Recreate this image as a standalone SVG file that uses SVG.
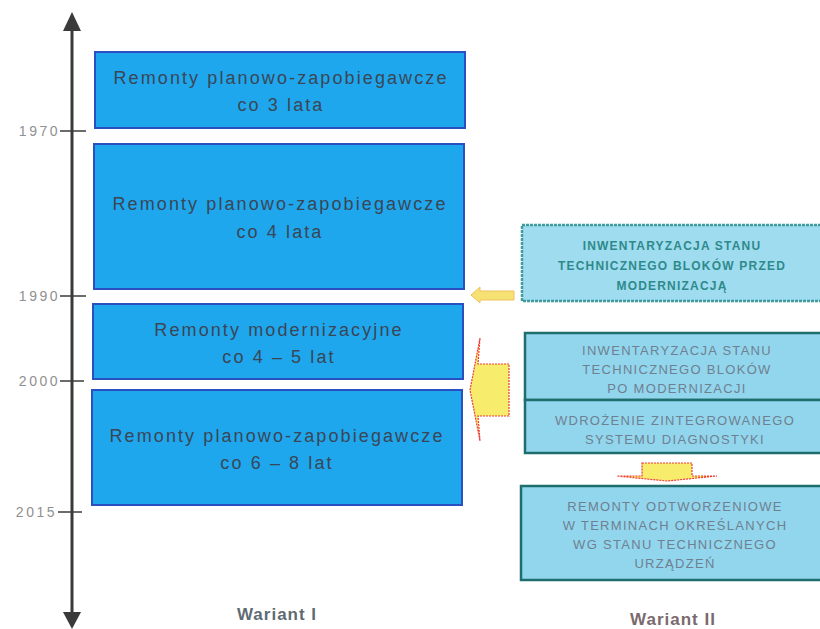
<svg xmlns="http://www.w3.org/2000/svg" width="820" height="629" viewBox="0 0 820 629">
<style>
.bg{fill:#ffffff}
.lbox{fill:#1fa7ee;stroke:#2a4fc0;stroke-width:2}
.ltxt{font-family:"Liberation Sans",Arial,sans-serif;font-size:18px;letter-spacing:2.1px;fill:#3a4655;text-anchor:middle}
.year{font-family:"Liberation Sans",Arial,sans-serif;font-size:14px;letter-spacing:2.5px;fill:#909090;text-anchor:end}
.axis{stroke:#3a3a3a;stroke-width:3;fill:none}
.tick{stroke:#3a3a3a;stroke-width:1.5}
.rbox1{fill:#9fdcf0;stroke:#3f9c9c;stroke-width:2.5;stroke-dasharray:3 1}
.rbox{fill:#92d6ee;stroke:#1f6e6e;stroke-width:2.5}
.rtxtb{font-family:"Liberation Sans",Arial,sans-serif;font-size:12px;font-weight:bold;letter-spacing:1.2px;fill:#2e8a8a;text-anchor:middle}
.rtxt{font-family:"Liberation Sans",Arial,sans-serif;font-size:13px;letter-spacing:1.3px;fill:#6f8090;text-anchor:middle}
.yarrow{fill:#f8ec6c;stroke:#ee3b3b;stroke-width:1.2;stroke-dasharray:2 1}
.yarrow2{fill:#f6e272;stroke:#f0c060;stroke-width:1}
.var{font-family:"Liberation Sans",Arial,sans-serif;font-size:17px;font-weight:bold;letter-spacing:1px;text-anchor:middle}
</style>
<rect class="bg" x="0" y="0" width="820" height="629"/>

<g id="axis">
<line class="axis" x1="72" y1="28" x2="72" y2="614"/>
<polygon points="72,12 63,31 81,31" fill="#3a3a3a"/>
<polygon points="72,629 63,612 81,612" fill="#3a3a3a"/>
<line class="tick" x1="60" y1="131" x2="86" y2="131"/>
<line class="tick" x1="60" y1="296" x2="86" y2="296"/>
<line class="tick" x1="60" y1="381" x2="84" y2="381"/>
<line class="tick" x1="58" y1="512" x2="82" y2="512"/>
<text class="year" x="60" y="136">1970</text>
<text class="year" x="60" y="301">1990</text>
<text class="year" x="60" y="386">2000</text>
<text class="year" x="57" y="517">2015</text>
</g>

<g id="box1">
<rect class="lbox" x="95" y="52" width="370" height="76"/>
<text class="ltxt" x="281" y="84">Remonty planowo-zapobiegawcze</text>
<text class="ltxt" x="281" y="111">co 3 lata</text>
</g>
<g id="box2">
<rect class="lbox" x="94" y="144" width="370" height="145"/>
<text class="ltxt" x="280" y="210">Remonty planowo-zapobiegawcze</text>
<text class="ltxt" x="280" y="238">co 4 lata</text>
</g>
<g id="box3">
<rect class="lbox" x="93" y="304" width="370" height="75"/>
<text class="ltxt" x="279" y="336">Remonty modernizacyjne</text>
<text class="ltxt" x="279" y="363">co 4 – 5 lat</text>
</g>
<g id="box4">
<rect class="lbox" x="92" y="390" width="370" height="115"/>
<text class="ltxt" x="277" y="442">Remonty planowo-zapobiegawcze</text>
<text class="ltxt" x="277" y="469">co 6 – 8 lat</text>
</g>

<g id="rbox1">
<rect class="rbox1" x="522" y="225" width="300" height="76"/>
<text class="rtxtb" x="672" y="250">INWENTARYZACJA STANU</text>
<text class="rtxtb" x="672" y="270">TECHNICZNEGO BLOKÓW PRZED</text>
<text class="rtxtb" x="672" y="290">MODERNIZACJĄ</text>
</g>
<g id="rbox2">
<rect class="rbox" x="525" y="333" width="297" height="67"/>
<text class="rtxt" x="677" y="355">INWENTARYZACJA STANU</text>
<text class="rtxt" x="677" y="374">TECHNICZNEGO BLOKÓW</text>
<text class="rtxt" x="677" y="393">PO MODERNIZACJI</text>
</g>
<g id="rbox3">
<rect class="rbox" x="525" y="400" width="297" height="53"/>
<text class="rtxt" x="675" y="425">WDROŻENIE ZINTEGROWANEGO</text>
<text class="rtxt" x="675" y="444">SYSTEMU DIAGNOSTYKI</text>
</g>
<g id="rbox4">
<rect class="rbox" x="521" y="486" width="301" height="94"/>
<text class="rtxt" x="675" y="511">REMONTY ODTWORZENIOWE</text>
<text class="rtxt" x="675" y="530">W TERMINACH OKREŚLANYCH</text>
<text class="rtxt" x="675" y="549">WG STANU TECHNICZNEGO</text>
<text class="rtxt" x="675" y="568">URZĄDZEŃ</text>
</g>

<g id="connectors">
<polygon class="yarrow2" points="471,295 480,287 480,291 514,291 514,300 480,300 480,303"/>
<polygon class="yarrow" points="470,390 480,338 478,364 509,364 509,416 478,416 480,441"/>
<polygon class="yarrow" points="642,463 692,463 692,476 717,476 667,481 617,476 642,476"/>
</g>

<g id="labels">
<text class="var" x="277" y="620" fill="#5f6a72">Wariant I</text>
<text class="var" x="673" y="625" fill="#7a6a6e">Wariant II</text>
</g>
</svg>
